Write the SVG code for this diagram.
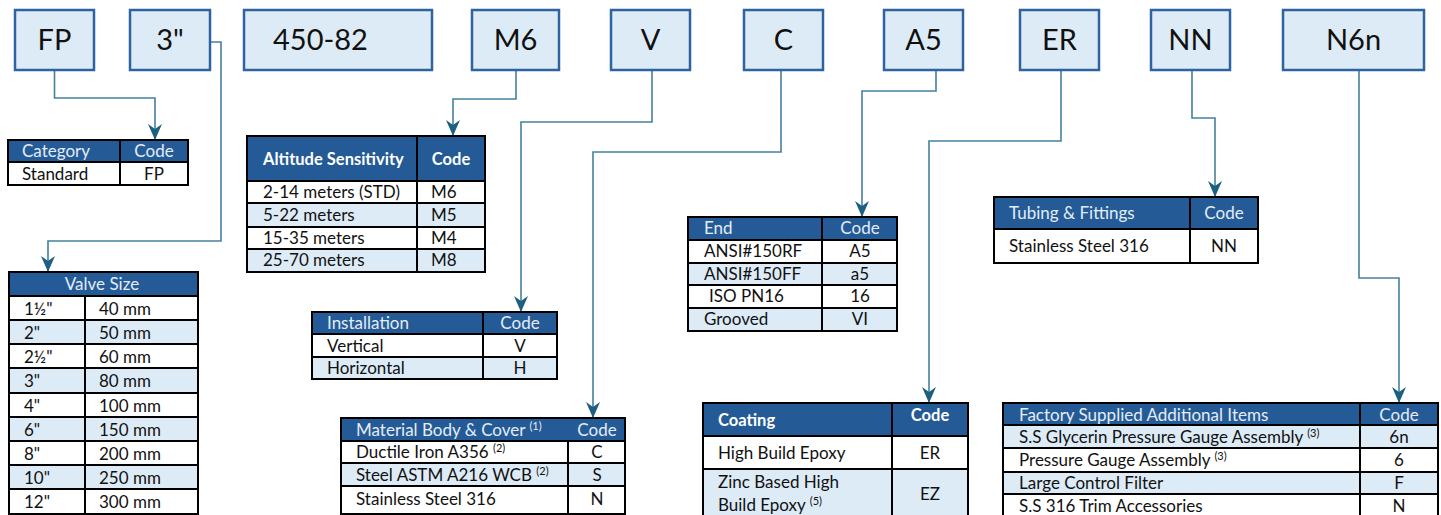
<svg xmlns="http://www.w3.org/2000/svg" width="1441" height="515" viewBox="0 0 1441 515">
<style>
text{font-family:Lato,"Open Sans","Liberation Sans",sans-serif;fill:#111;}
.box{fill:#DDEBF7;stroke:#2E63A0;stroke-width:2.5;}
.bt{font-size:29px;}
.hd{fill:#245B96;stroke:#000;stroke-width:2;}
.w{fill:#fff;stroke:#000;stroke-width:2;}
.b{fill:#DDEBF7;stroke:#000;stroke-width:2;}
.tx{font-size:17px;}
.th{font-size:17px;fill:#E4ECF6;}
.tb{font-size:16.5px;font-weight:bold;fill:#fff;}
.m{text-anchor:middle;}
.sup{font-size:11px;}
.con{fill:none;stroke:#44819F;stroke-width:1.6;marker-end:url(#ah);}
</style>
<defs>
<marker id="ah" viewBox="0 0 16 16" markerUnits="userSpaceOnUse" markerWidth="16" markerHeight="16" refX="15" refY="8" orient="auto">
<path d="M0,1 L16,8 L0,15 L5,8 z" fill="#1C5F80"/>
</marker>
</defs>
<rect width="1441" height="515" fill="#fff"/>

<g id="connectors">
<path class="con" d="M54.5,71 V98 H155 V139"/>
<path class="con" d="M210,42 H221 V241 H48 V271"/>
<path class="con" d="M516,71 V99 H453 V135"/>
<path class="con" d="M652,71 V122 H521 V311"/>
<path class="con" d="M781,71 V152 H593 V417"/>
<path class="con" d="M936,71 V91 H862 V216"/>
<path class="con" d="M1061,71 V141 H929 V402"/>
<path class="con" d="M1192,71 V118 H1215 V196"/>
<path class="con" d="M1359,71 V278 H1399 V402"/>
</g>

<g id="box-fp"><rect class="box" x="15" y="10" width="79" height="60"/><text class="bt m" x="54.5" y="50">FP</text></g>
<g id="box-size"><rect class="box" x="130" y="10" width="80" height="60"/><text class="bt m" x="170" y="50">3"</text></g>
<g id="box-model"><rect class="box" x="244" y="10" width="188" height="60"/><text class="bt" x="273" y="50">450-82</text></g>
<g id="box-m6"><rect class="box" x="472" y="10" width="87" height="60"/><text class="bt m" x="515.5" y="50">M6</text></g>
<g id="box-v"><rect class="box" x="611" y="10" width="79" height="60"/><text class="bt m" x="650.5" y="50">V</text></g>
<g id="box-c"><rect class="box" x="744" y="10" width="79" height="60"/><text class="bt m" x="783.5" y="50">C</text></g>
<g id="box-a5"><rect class="box" x="884" y="10" width="79" height="60"/><text class="bt m" x="923.5" y="50">A5</text></g>
<g id="box-er"><rect class="box" x="1020" y="10" width="79" height="60"/><text class="bt m" x="1059.5" y="50">ER</text></g>
<g id="box-nn"><rect class="box" x="1151" y="10" width="79" height="60"/><text class="bt m" x="1190.5" y="50">NN</text></g>
<g id="box-n6n"><rect class="box" x="1283" y="10" width="141" height="60"/><text class="bt m" x="1353.5" y="50">N6n</text></g>

<g id="tbl-category">
<rect class="hd" x="8" y="140" width="112" height="22"/><rect class="hd" x="120" y="140" width="68" height="22"/>
<rect class="w" x="8" y="162" width="112" height="23"/><rect class="w" x="120" y="162" width="68" height="23"/>
<text class="th" x="22" y="157">Category</text><text class="th m" x="154" y="157">Code</text>
<text class="tx" x="22" y="180">Standard</text><text class="tx m" x="154" y="180">FP</text>
</g>

<g id="tbl-valve">
<rect class="hd" x="9" y="272" width="189" height="24"/>
<rect class="w" x="9" y="296" width="76" height="24"/><rect class="w" x="85" y="296" width="113" height="24"/>
<rect class="b" x="9" y="320" width="76" height="24"/><rect class="b" x="85" y="320" width="113" height="24"/>
<rect class="w" x="9" y="344" width="76" height="24"/><rect class="w" x="85" y="344" width="113" height="24"/>
<rect class="b" x="9" y="368" width="76" height="25"/><rect class="b" x="85" y="368" width="113" height="25"/>
<rect class="w" x="9" y="393" width="76" height="24"/><rect class="w" x="85" y="393" width="113" height="24"/>
<rect class="b" x="9" y="417" width="76" height="24"/><rect class="b" x="85" y="417" width="113" height="24"/>
<rect class="w" x="9" y="441" width="76" height="24"/><rect class="w" x="85" y="441" width="113" height="24"/>
<rect class="b" x="9" y="465" width="76" height="24"/><rect class="b" x="85" y="465" width="113" height="24"/>
<rect class="w" x="9" y="489" width="76" height="25"/><rect class="w" x="85" y="489" width="113" height="25"/>
<text class="th m" x="102" y="290">Valve Size</text>
<text class="tx" x="24" y="315">1½"</text><text class="tx" x="99" y="315">40 mm</text>
<text class="tx" x="24" y="339">2"</text><text class="tx" x="99" y="339">50 mm</text>
<text class="tx" x="24" y="363">2½"</text><text class="tx" x="99" y="363">60 mm</text>
<text class="tx" x="24" y="387">3"</text><text class="tx" x="99" y="387">80 mm</text>
<text class="tx" x="24" y="412">4"</text><text class="tx" x="99" y="412">100 mm</text>
<text class="tx" x="24" y="436">6"</text><text class="tx" x="99" y="436">150 mm</text>
<text class="tx" x="24" y="460">8"</text><text class="tx" x="99" y="460">200 mm</text>
<text class="tx" x="24" y="484">10"</text><text class="tx" x="99" y="484">250 mm</text>
<text class="tx" x="24" y="508">12"</text><text class="tx" x="99" y="508">300 mm</text>
</g>

<g id="tbl-altitude">
<rect class="hd" x="247" y="136" width="170" height="45"/><rect class="hd" x="417" y="136" width="68" height="45"/>
<rect class="w" x="247" y="181" width="170" height="22"/><rect class="w" x="417" y="181" width="68" height="22"/>
<rect class="b" x="247" y="203" width="170" height="24"/><rect class="b" x="417" y="203" width="68" height="24"/>
<rect class="w" x="247" y="227" width="170" height="22"/><rect class="w" x="417" y="227" width="68" height="22"/>
<rect class="b" x="247" y="249" width="170" height="23"/><rect class="b" x="417" y="249" width="68" height="23"/>
<text class="tb" x="263" y="165">Altitude Sensitivity</text><text class="tb m" x="451" y="165">Code</text>
<text class="tx" x="263" y="198">2-14 meters (STD)</text><text class="tx" x="431" y="198">M6</text>
<text class="tx" x="263" y="221">5-22 meters</text><text class="tx" x="431" y="221">M5</text>
<text class="tx" x="263" y="244">15-35 meters</text><text class="tx" x="431" y="244">M4</text>
<text class="tx" x="263" y="266">25-70 meters</text><text class="tx" x="431" y="266">M8</text>
</g>

<g id="tbl-installation">
<rect class="hd" x="312" y="312" width="171" height="22"/><rect class="hd" x="483" y="312" width="74" height="22"/>
<rect class="w" x="312" y="334" width="171" height="23"/><rect class="w" x="483" y="334" width="74" height="23"/>
<rect class="b" x="312" y="357" width="171" height="22"/><rect class="b" x="483" y="357" width="74" height="22"/>
<text class="th" x="327" y="329">Installation</text><text class="th m" x="520" y="329">Code</text>
<text class="tx" x="327" y="352">Vertical</text><text class="tx m" x="520" y="352">V</text>
<text class="tx" x="327" y="374">Horizontal</text><text class="tx m" x="520" y="374">H</text>
</g>

<g id="tbl-material">
<rect class="hd" x="341" y="418" width="284" height="23"/>
<rect class="w" x="341" y="441" width="227" height="22"/><rect class="w" x="568" y="441" width="57" height="22"/>
<rect class="b" x="341" y="463" width="227" height="23"/><rect class="b" x="568" y="463" width="57" height="23"/>
<rect class="w" x="341" y="486" width="227" height="28"/><rect class="w" x="568" y="486" width="57" height="28"/>
<text class="th" x="356" y="436">Material Body &amp; Cover <tspan class="sup" dy="-6">(1)</tspan></text><text class="th m" x="597" y="436">Code</text>
<text class="tx" x="356" y="458">Ductile Iron A356 <tspan class="sup" dy="-6">(2)</tspan></text><text class="tx m" x="597" y="458">C</text>
<text class="tx" x="356" y="481">Steel ASTM A216 WCB <tspan class="sup" dy="-6">(2)</tspan></text><text class="tx m" x="597" y="481">S</text>
<text class="tx" x="356" y="505">Stainless Steel 316</text><text class="tx m" x="597" y="505">N</text>
</g>

<g id="tbl-end">
<rect class="hd" x="688" y="217" width="134" height="23"/><rect class="hd" x="822" y="217" width="75" height="23"/>
<rect class="w" x="688" y="240" width="134" height="23"/><rect class="w" x="822" y="240" width="75" height="23"/>
<rect class="b" x="688" y="263" width="134" height="22"/><rect class="b" x="822" y="263" width="75" height="22"/>
<rect class="w" x="688" y="285" width="134" height="23"/><rect class="w" x="822" y="285" width="75" height="23"/>
<rect class="b" x="688" y="308" width="134" height="23"/><rect class="b" x="822" y="308" width="75" height="23"/>
<text class="th" x="704" y="234">End</text><text class="th m" x="860" y="234">Code</text>
<text class="tx" x="704" y="257">ANSI#150RF</text><text class="tx m" x="860" y="257">A5</text>
<text class="tx" x="704" y="280">ANSI#150FF</text><text class="tx m" x="860" y="280">a5</text>
<text class="tx" x="709" y="302">ISO PN16</text><text class="tx m" x="860" y="302">16</text>
<text class="tx" x="704" y="325">Grooved</text><text class="tx m" x="860" y="325">VI</text>
</g>

<g id="tbl-coating">
<rect class="hd" x="703" y="403" width="189" height="33"/><rect class="hd" x="892" y="403" width="76" height="33"/>
<rect class="w" x="703" y="436" width="189" height="33"/><rect class="w" x="892" y="436" width="76" height="33"/>
<rect class="b" x="703" y="469" width="189" height="52"/><rect class="b" x="892" y="469" width="76" height="52"/>
<text class="tb" x="718" y="426">Coating</text><text class="tb m" x="930" y="421">Code</text>
<text class="tx" x="718" y="459">High Build Epoxy</text><text class="tx m" x="930" y="459">ER</text>
<text class="tx" x="718" y="488">Zinc Based High</text>
<text class="tx" x="718" y="511">Build Epoxy <tspan class="sup" dy="-6">(5)</tspan></text>
<text class="tx m" x="930" y="500">EZ</text>
</g>

<g id="tbl-tubing">
<rect class="hd" x="994" y="197" width="196" height="32"/><rect class="hd" x="1190" y="197" width="68" height="32"/>
<rect class="w" x="994" y="229" width="196" height="34"/><rect class="w" x="1190" y="229" width="68" height="34"/>
<text class="th" x="1009" y="219">Tubing &amp; Fittings</text><text class="th m" x="1224" y="219">Code</text>
<text class="tx" x="1009" y="252">Stainless Steel 316</text><text class="tx m" x="1224" y="252">NN</text>
</g>

<g id="tbl-factory">
<rect class="hd" x="1003" y="403" width="357" height="22"/><rect class="hd" x="1360" y="403" width="78" height="22"/>
<rect class="b" x="1003" y="425" width="357" height="23"/><rect class="b" x="1360" y="425" width="78" height="23"/>
<rect class="w" x="1003" y="448" width="357" height="24"/><rect class="w" x="1360" y="448" width="78" height="24"/>
<rect class="b" x="1003" y="472" width="357" height="22"/><rect class="b" x="1360" y="472" width="78" height="22"/>
<rect class="w" x="1003" y="494" width="357" height="27"/><rect class="w" x="1360" y="494" width="78" height="27"/>
<text class="th" x="1019" y="421">Factory Supplied Additional Items</text><text class="th m" x="1399" y="421">Code</text>
<text class="tx" x="1019" y="443">S.S Glycerin Pressure Gauge Assembly <tspan class="sup" dy="-6">(3)</tspan></text><text class="tx m" x="1399" y="443">6n</text>
<text class="tx" x="1019" y="466">Pressure Gauge Assembly <tspan class="sup" dy="-6">(3)</tspan></text><text class="tx m" x="1399" y="466">6</text>
<text class="tx" x="1019" y="489">Large Control Filter</text><text class="tx m" x="1399" y="489">F</text>
<text class="tx" x="1019" y="512">S.S 316 Trim Accessories</text><text class="tx m" x="1399" y="512">N</text>
</g>
</svg>
